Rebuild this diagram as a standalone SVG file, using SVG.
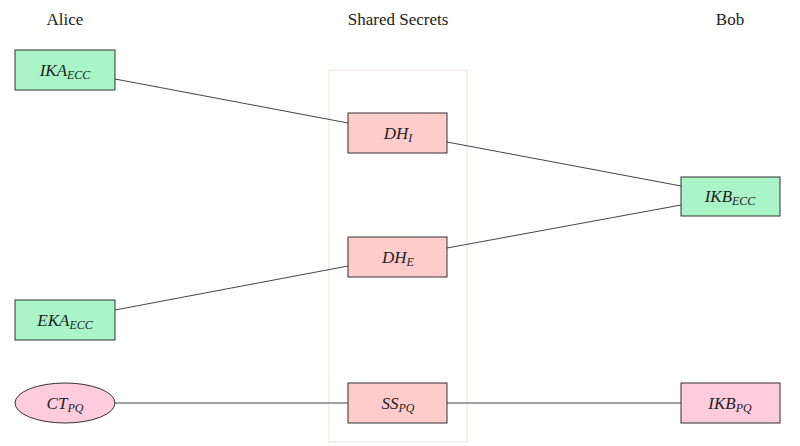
<svg xmlns="http://www.w3.org/2000/svg" width="800" height="446" viewBox="0 0 800 446">
<style>
.h{font-family:"Liberation Serif",serif;font-size:17px;fill:#222;text-anchor:middle}
.m{font-family:"Liberation Serif",serif;font-style:italic;font-size:17px;fill:#222;text-anchor:middle}
.s{font-size:12px}
.g{fill:#aaf5c8;stroke:#333;stroke-width:1}
.p{fill:#ffcccc;stroke:#333;stroke-width:1}
.q{fill:#ffccdd;stroke:#333;stroke-width:1}
.c{stroke:#444;stroke-width:1;fill:none}
</style>
<rect width="800" height="446" fill="#fff"/>
<text class="h" x="65" y="25">Alice</text>
<text class="h" x="398" y="25">Shared Secrets</text>
<text class="h" x="730" y="25">Bob</text>
<rect x="329" y="70" width="138" height="372" fill="none" stroke="#f5dcd8" stroke-width="1"/>
<g id="connectors">
<line class="c" x1="115" y1="79" x2="348" y2="123"/>
<line class="c" x1="447" y1="142" x2="681" y2="186"/>
<line class="c" x1="447" y1="248" x2="681" y2="205"/>
<line class="c" x1="115" y1="310" x2="348" y2="266"/>
<line class="c" x1="115" y1="403" x2="348" y2="403"/>
<line class="c" x1="447" y1="403" x2="681" y2="403"/>
</g>
<g id="ika"><rect class="g" x="15" y="50" width="100" height="40"/><text class="m" x="65" y="76">IKA<tspan class="s" dy="3">ECC</tspan></text></g>
<g id="dhi"><rect class="p" x="348" y="113" width="99" height="40"/><text class="m" x="398" y="139">DH<tspan class="s" dy="3">I</tspan></text></g>
<g id="ikbecc"><rect class="g" x="681" y="177" width="99" height="39"/><text class="m" x="730" y="202">IKB<tspan class="s" dy="3">ECC</tspan></text></g>
<g id="dhe"><rect class="p" x="348" y="237" width="99" height="40"/><text class="m" x="398" y="263">DH<tspan class="s" dy="3">E</tspan></text></g>
<g id="eka"><rect class="g" x="15" y="300" width="100" height="40"/><text class="m" x="65" y="326">EKA<tspan class="s" dy="3">ECC</tspan></text></g>
<g id="ct"><ellipse class="q" cx="65" cy="403" rx="50" ry="20"/><text class="m" x="65" y="409">CT<tspan class="s" dy="3">PQ</tspan></text></g>
<g id="ss"><rect class="p" x="348" y="383" width="99" height="40"/><text class="m" x="398" y="409">SS<tspan class="s" dy="3">PQ</tspan></text></g>
<g id="ikbpq"><rect class="q" x="681" y="383" width="99" height="40"/><text class="m" x="730" y="409">IKB<tspan class="s" dy="3">PQ</tspan></text></g>
</svg>
